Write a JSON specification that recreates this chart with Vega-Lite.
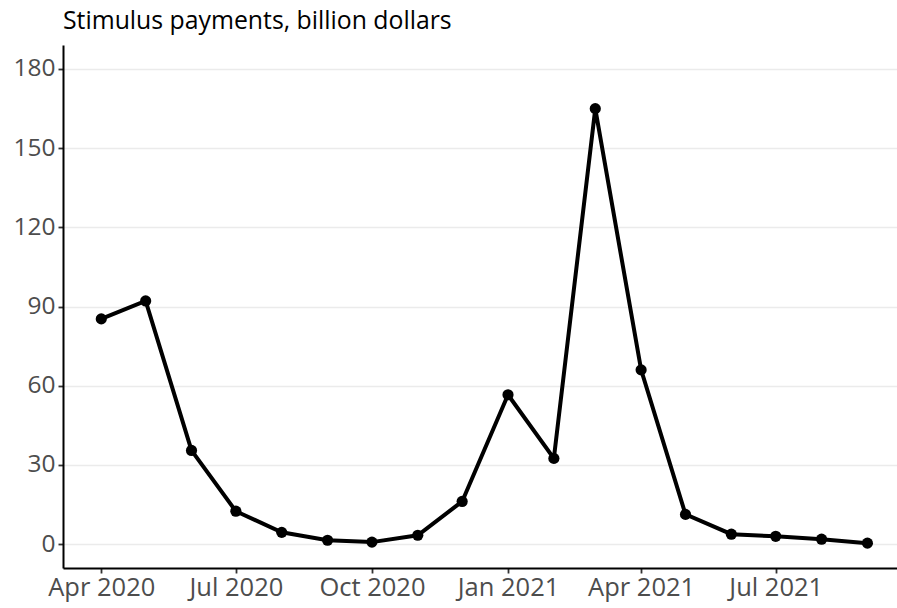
{
  "$schema": "https://vega.github.io/schema/vega-lite/v6.json",
  "autosize": {"type": "none"},
  "width": 834,
  "height": 523,
  "padding": {"left": 63, "top": 45, "right": 0, "bottom": 40},
  "background": "white",
  "config": {
    "view": {"stroke": null},
    "font": "Open Sans"
  },
  "title": {
    "text": "Stimulus payments, billion dollars",
    "anchor": "start",
    "frame": "group",
    "font": "Open Sans",
    "fontSize": 24.8,
    "fontWeight": "normal",
    "color": "black",
    "offset": 11
  },
  "data": {
    "values": [
      {"month": "2020-04-01", "payments": 85.3},
      {"month": "2020-05-01", "payments": 92.1},
      {"month": "2020-06-01", "payments": 35.5},
      {"month": "2020-07-01", "payments": 12.5},
      {"month": "2020-08-01", "payments": 4.5},
      {"month": "2020-09-01", "payments": 1.5},
      {"month": "2020-10-01", "payments": 0.8},
      {"month": "2020-11-01", "payments": 3.4},
      {"month": "2020-12-01", "payments": 16.2},
      {"month": "2021-01-01", "payments": 56.6},
      {"month": "2021-02-01", "payments": 32.5},
      {"month": "2021-03-01", "payments": 164.9},
      {"month": "2021-04-01", "payments": 66.0},
      {"month": "2021-05-01", "payments": 11.3},
      {"month": "2021-06-01", "payments": 3.8},
      {"month": "2021-07-01", "payments": 3.0},
      {"month": "2021-08-01", "payments": 1.9},
      {"month": "2021-09-01", "payments": 0.4}
    ]
  },
  "mark": {
    "type": "line",
    "color": "black",
    "strokeWidth": 4,
    "point": {"filled": true, "color": "black", "size": 125, "opacity": 1}
  },
  "encoding": {
    "x": {
      "field": "month",
      "type": "temporal",
      "scale": {"type": "utc", "domain": ["2020-03-06T03:00:00Z", "2021-09-21T00:00:00Z"], "nice": false},
      "axis": {
        "title": null,
        "format": "%b %Y",
        "tickCount": {"interval": "month", "step": 3},
        "grid": false,
        "domainColor": "black",
        "domainWidth": 2,
        "tickColor": "#333333",
        "tickWidth": 1.8,
        "tickSize": 5,
        "labelFont": "Open Sans",
        "labelFontSize": 25.5,
        "labelColor": "#4D4D4D",
        "labelPadding": 2,
        "labelFlush": false,
        "labelOverlap": false
      }
    },
    "y": {
      "field": "payments",
      "type": "quantitative",
      "scale": {"domain": [-9, 189], "nice": false, "zero": false},
      "axis": {
        "title": null,
        "values": [0, 30, 60, 90, 120, 150, 180],
        "grid": true,
        "gridColor": "#EBEBEB",
        "gridWidth": 1.5,
        "domainColor": "black",
        "domainWidth": 2,
        "tickColor": "#333333",
        "tickWidth": 1.8,
        "tickSize": 5,
        "labelFont": "Open Sans",
        "labelFontSize": 24.5,
        "labelColor": "#4D4D4D",
        "labelPadding": 3
      }
    }
  }
}
